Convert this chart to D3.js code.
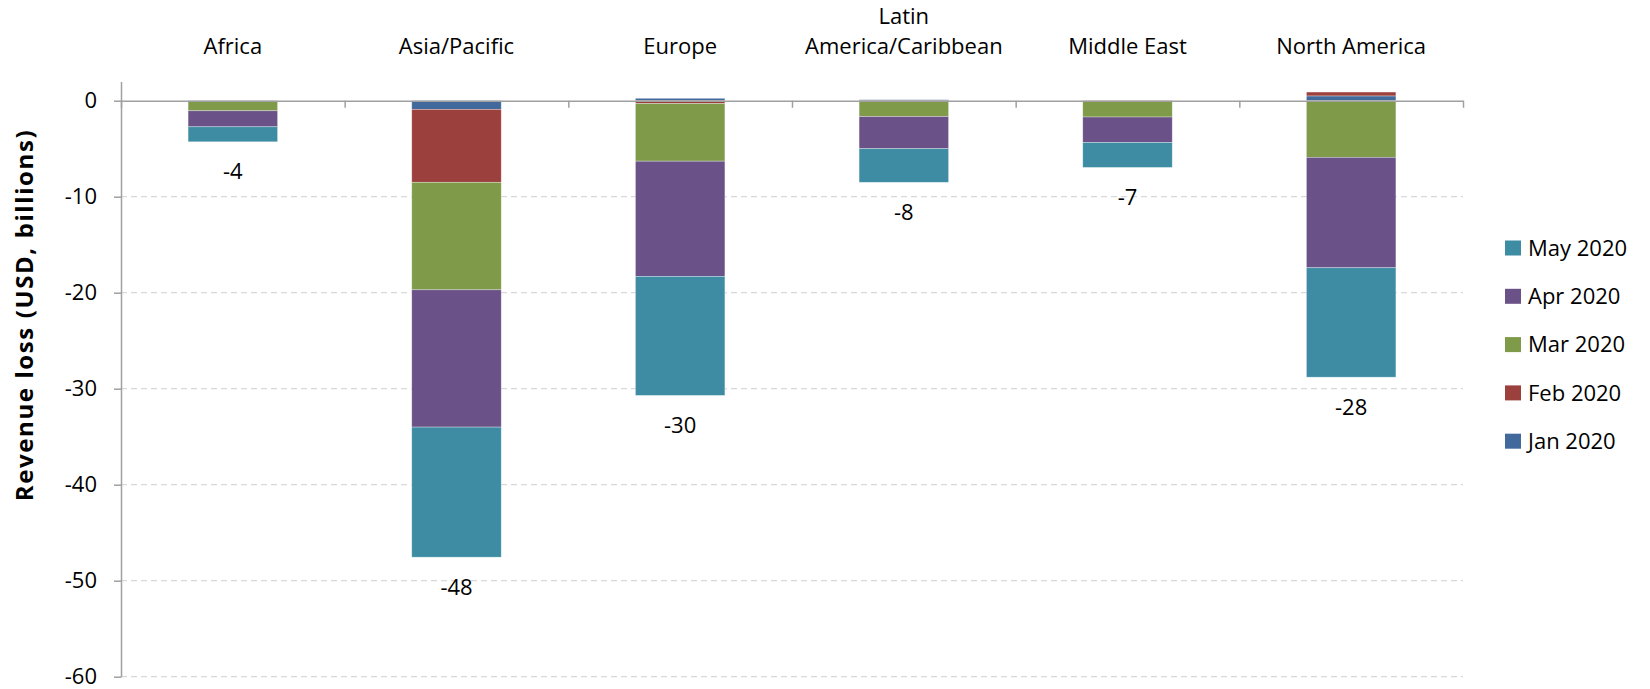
<!DOCTYPE html>
<html>
<head>
<meta charset="utf-8">
<script src="https://cdn.jsdelivr.net/npm/d3@7"></script>
<style>
  body { margin: 0; background: #fff; }
  text { font-family: "Open Sans", "Noto Sans", sans-serif; fill: #000; }
</style>
</head>
<body>
<svg></svg>
<script>
// regions on the category axis
const regions = ["Africa", "Asia/Pacific", "Europe", "Latin America/Caribbean", "Middle East", "North America"];
// revenue loss per month, USD billions
const jan = [-0.02, -0.9, 0.25, 0.1, 0, 0.5];
const feb = [-0.08, -7.6, -0.3, -0.1, -0.1, 0.4];
const mar = [-0.95, -11.2, -6.0, -1.55, -1.6, -5.9];
const apr = [-1.67, -14.3, -12.0, -3.35, -2.65, -11.5];
const may = [-1.56, -13.55, -12.4, -3.5, -2.6, -11.4];
const months = ["Jan 2020", "Feb 2020", "Mar 2020", "Apr 2020", "May 2020"];
const yTicks = [0, -10, -20, -30, -40, -50, -60];

const colors = ["#41699c", "#9c403e", "#7f9a48", "#6a5187", "#3d8ca3"];
const series = [jan, feb, mar, apr, may];

let svgWidth = 1650;
let svgHeight = 689;
let svg = d3.select("svg")
    .attr("width", svgWidth)
    .attr("height", svgHeight)

let left = 121, right = 1463;

let rows = regions.map(function(r, i) {
    let row = {region: r};
    months.forEach(function(m, j) { row[m] = series[j][i]; });
    return row;
});

let stacked = d3.stack()
    .keys(months)
    .offset(d3.stackOffsetDiverging)(rows);

let xScale = d3.scaleBand()
    .domain(regions)
    .range([left, right])
    .paddingInner(0.6)
    .paddingOuter(0.3)

let yScale = d3.scaleLinear()
    .domain([-60, 2])
    .range([676.7, 81.5])

// dashed gridlines
svg.append("g")
    .selectAll("line")
    .data(yTicks.filter(d => d !== 0))
    .enter()
    .append("line")
    .attr("x1", left)
    .attr("x2", right)
    .attr("y1", d => yScale(d))
    .attr("y2", d => yScale(d))
    .attr("stroke", "#d9d9d9")
    .attr("stroke-width", 1.2)
    .attr("stroke-dasharray", "6,4")

// bars
svg.append("g")
    .selectAll("g")
    .data(stacked)
    .enter()
    .append("g")
    .attr("fill", (d, i) => colors[i])
    .selectAll("rect")
    .data(d => d)
    .enter()
    .append("rect")
    .attr("x", d => xScale(d.data.region))
    .attr("width", xScale.bandwidth())
    .attr("y", d => yScale(Math.max(d[0], d[1])))
    .attr("height", d => Math.abs(yScale(d[0]) - yScale(d[1])))
    .attr("stroke", "#ffffff")
    .attr("stroke-opacity", 0.45)
    .attr("stroke-width", 0.7)

// category axis along zero, ticks between groups
let boundary = d3.scaleLinear().domain([0, regions.length]).range([left, right]);
let xAxisGroup = svg.append("g")
    .attr("transform", `translate(0, ${yScale(0)})`)
    .call(d3.axisBottom(boundary).ticks(regions.length).tickFormat("").tickSize(7).tickSizeOuter(0))
xAxisGroup.selectAll("path, line").attr("stroke", "#a0a0a0").attr("stroke-width", 1.5)

// y axis (plain hyphen for negatives, as in the source)
let yAxisGroup = svg.append("g")
    .attr("transform", `translate(${left}, 0)`)
    .call(d3.axisLeft(yScale).tickValues(yTicks).tickFormat(d => String(d)).tickSize(7).tickPadding(17).tickSizeOuter(0))
yAxisGroup.selectAll("path, line").attr("stroke", "#a0a0a0").attr("stroke-width", 1.5)
yAxisGroup.selectAll("text")
    .style("font-family", "'Open Sans', sans-serif")
    .style("font-size", "22px")
    .attr("fill", "#000")

// category labels on top, wrapped if too wide
svg.append("g")
    .selectAll("text")
    .data(regions)
    .enter()
    .append("text")
    .attr("x", d => xScale(d) + xScale.bandwidth() / 2)
    .attr("y", 46)
    .attr("text-anchor", "middle")
    .attr("dy", "0.35em")
    .style("font-size", "22px")
    .each(function(d) {
        let el = d3.select(this);
        el.text(d);
        if (this.getComputedTextLength() > xScale.step() - 10 && d.indexOf(" ") > 0) {
            let cut = d.indexOf(" ");
            el.text(null);
            el.append("tspan").attr("x", el.attr("x")).attr("dy", "-1.0em").text(d.slice(0, cut));
            el.append("tspan").attr("x", el.attr("x")).attr("dy", "1.36em").text(d.slice(cut + 1));
        }
    })

// totals under each bar
svg.append("g")
    .selectAll("text")
    .data(rows)
    .enter()
    .append("text")
    .attr("x", d => xScale(d.region) + xScale.bandwidth() / 2)
    .attr("y", function(d) {
        let low = d3.sum(months, m => Math.min(0, d[m]));
        return yScale(low) + 30;
    })
    .attr("dy", "0.35em")
    .attr("text-anchor", "middle")
    .style("font-size", "22px")
    .text(d => Math.round(d3.sum(months, m => d[m])))

// y axis title
svg.append("text")
    .attr("transform", "rotate(-90)")
    .attr("x", -315)
    .attr("y", 25)
    .attr("dy", "0.35em")
    .attr("text-anchor", "middle")
    .style("font-size", "24px")
    .style("letter-spacing", "1.6px")
    .style("font-weight", "bold")
    .text("Revenue loss (USD, billions)")

// legend, latest month first
let legend = svg.append("g")
    .selectAll("g")
    .data(months.slice().reverse())
    .enter()
    .append("g")
    .attr("transform", (d, i) => `translate(1505, ${248 + i * 48.3})`)

legend.append("rect")
    .attr("x", 0)
    .attr("y", -7.5)
    .attr("width", 16)
    .attr("height", 15)
    .attr("fill", d => colors[months.indexOf(d)])

legend.append("text")
    .attr("x", 23)
    .attr("dy", "0.35em")
    .style("font-size", "22px")
    .text(d => d)
</script>
</body>
</html>
